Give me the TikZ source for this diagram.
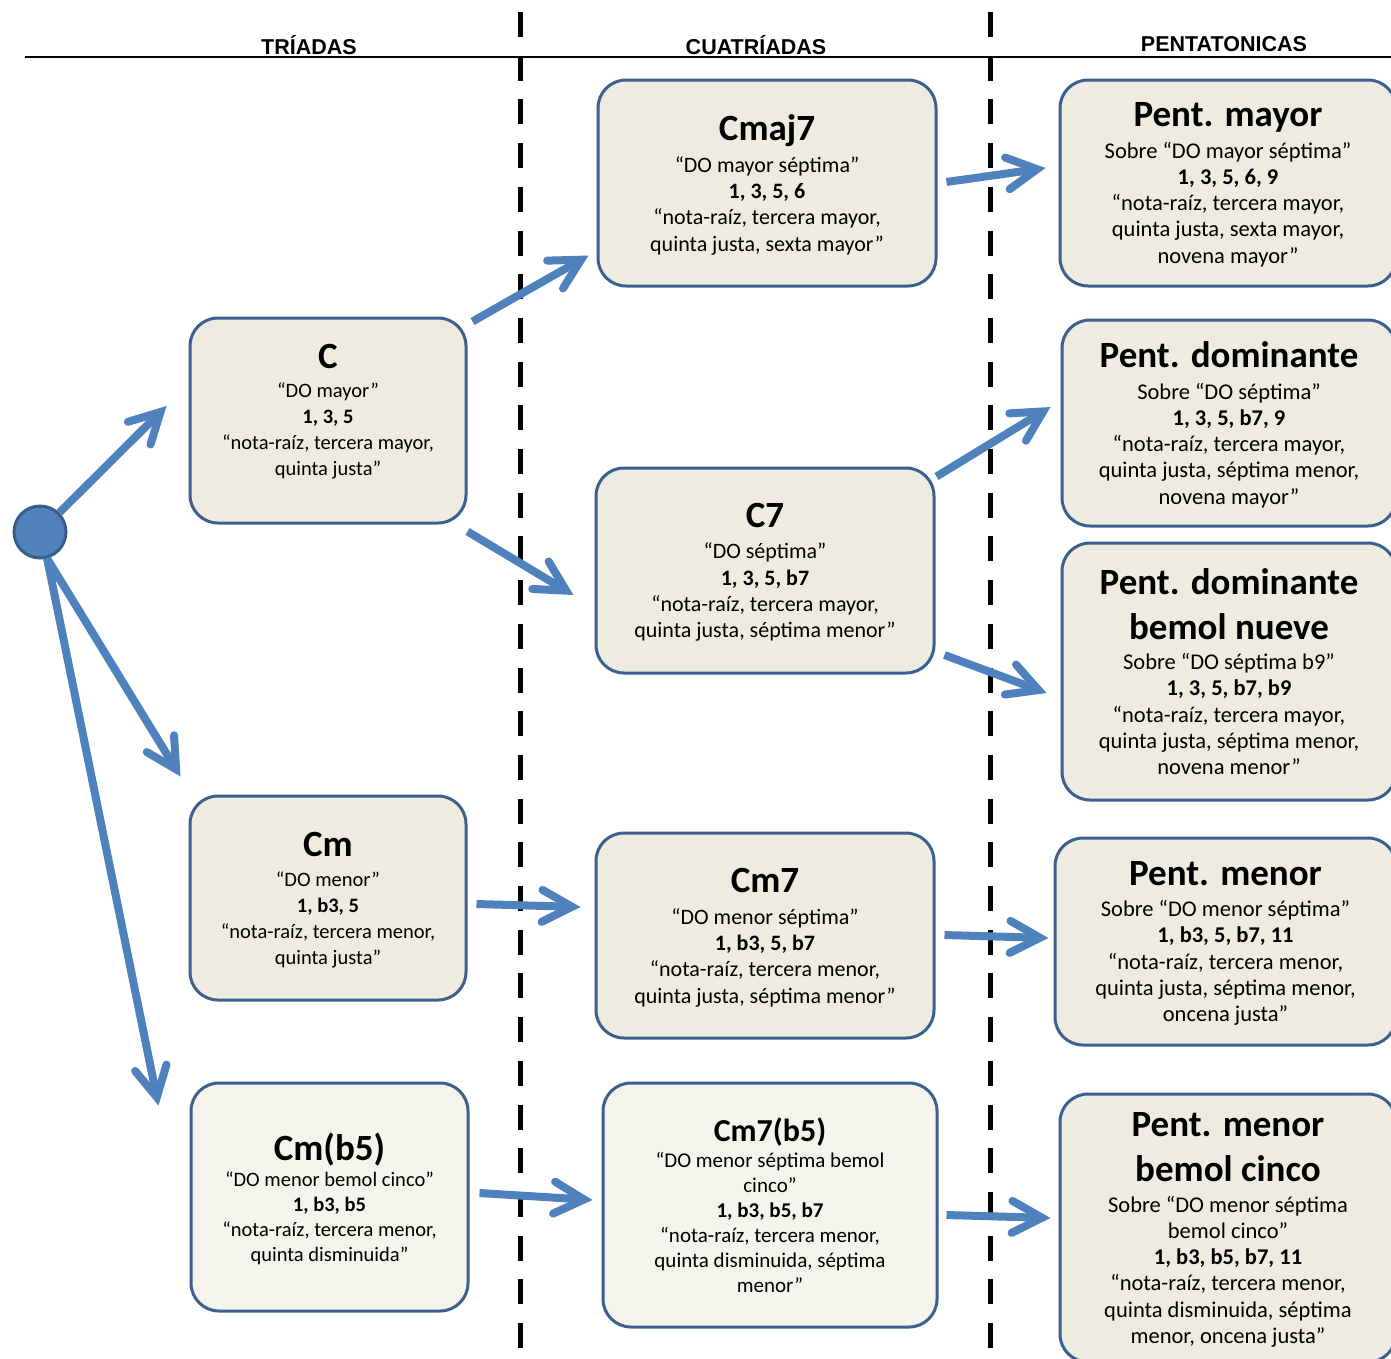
\documentclass[tikz,border=0pt]{standalone}
\usepackage{fontspec}
\setmainfont{Carlito}
\newfontfamily\hdrfont{Liberation Sans}
\usepackage{tikz}
\usetikzlibrary{arrows.meta,positioning,calc}
\definecolor{BoxFill}{RGB}{238,236,225}
\definecolor{BoxFillLt}{RGB}{244,243,236}
\definecolor{BoxLine}{RGB}{60,95,142}
\definecolor{ArrBlue}{RGB}{79,129,189}
\definecolor{DotLine}{RGB}{56,93,138}
\newcommand{\chtitle}{\fontsize{37}{40}\selectfont\bfseries}
\newcommand{\chsmall}{\fontsize{32}{36}\selectfont\bfseries}
\tikzset{
  chord/.style={rectangle,rounded corners=28pt,draw=BoxLine,line width=3pt,
                fill=BoxFill,align=center,inner sep=0pt,text=black},
  tri/.style={chord,minimum width=276pt,minimum height=205pt,
              font=\fontsize{20.5}{26}\selectfont},
  cuat/.style={chord,minimum width=338pt,minimum height=205pt,
               font=\fontsize{22}{26.3}\selectfont},
  pent/.style={chord,minimum width=336pt,minimum height=206pt,
               font=\fontsize{22.5}{26.3}\selectfont},
  hdr/.style={font=\hdrfont\bfseries\fontsize{21.5}{24}\selectfont},
  arr/.style={-{Straight Barb[length=30pt,width=32pt,line cap=round,line join=miter]},
              line width=8pt,ArrBlue},
  sepline/.style={line width=5pt,dash pattern=on 25pt off 18.7pt},
}

\begin{document}
\begin{tikzpicture}[x=1pt,y=-1pt]
  \clip (0,0) rectangle (1391,1358);
  \fill[white] (0,0) rectangle (1391,1358);
  % column heads
  \draw[line width=2pt] (25,57) -- (1391,57);
  \draw[sepline] (520,12) -- (520,1358);
  \draw[sepline] (990,12) -- (990,1358);
  \node[hdr] (hT) at (309,45) {TRÍADAS};
  \node[hdr] (hC) at (756,45) {CUATRÍADAS};
  \node[hdr] (hP) at (1224,44) {PENTATONICAS};

  % start
  \node[circle,fill=ArrBlue,draw=DotLine,line width=3pt,minimum size=52pt,inner sep=0pt] (root) at (40,532) {};

  % triadas
  \node[tri,text depth=22pt] (C) at (328,420.5) {{\chtitle C}\\[3pt] “DO mayor”\\ \textbf{1, 3, 5}\\ “nota-raíz, tercera mayor,\\ quinta justa”};
  \node[tri,minimum height=204pt,text depth=-5pt] (Cm) at (328,898) {{\chtitle Cm}\\[4pt] “DO menor”\\ \textbf{1, b3, 5}\\ “nota-raíz, tercera menor,\\ quinta justa”};
  \node[tri,fill=BoxFillLt,minimum width=277pt,minimum height=228pt,text depth=0pt,
        font=\fontsize{20.5}{25}\selectfont] (Cmb5) at (329.5,1197) {{\chtitle Cm(b5)}\\[1pt] “DO menor bemol cinco”\\ \textbf{1, b3, b5}\\ “nota-raíz, tercera menor,\\ quinta disminuida”};

  % cuatriadas
  \node[cuat,minimum height=206pt,text depth=-1pt] (Cmaj7) at (767,183) {{\chtitle Cmaj7}\\[5pt] “DO mayor séptima”\\ \textbf{1, 3, 5, 6}\\ “nota-raíz, tercera mayor,\\ quinta justa, sexta mayor”};
  \node[cuat,text depth=-4pt] (C7) at (765,570.5) {{\chtitle C7}\\[5pt] “DO séptima”\\ \textbf{1, 3, 5, b7}\\ “nota-raíz, tercera mayor,\\ quinta justa, séptima menor”};
  \node[cuat,text depth=-2pt] (Cm7) at (765,935.5) {{\chtitle Cm7}\\[6pt] “DO menor séptima”\\ \textbf{1, b3, 5, b7}\\ “nota-raíz, tercera menor,\\ quinta justa, séptima menor”};
  \node[cuat,fill=BoxFillLt,minimum width=334pt,minimum height=244pt,font=\fontsize{21}{25}\selectfont] (Cm7b5) at (770,1205) {{\chsmall Cm7(b5)}\\[1pt] “DO menor séptima bemol\\ cinco”\\ \textbf{1, b3, b5, b7}\\ “nota-raíz, tercera menor,\\ quinta disminuida, séptima\\ menor”};

  % pentatonicas
  \node[pent,text depth=-4pt] (Pmay) at (1228,183) {{\chtitle Pent. mayor}\\[5pt] Sobre “DO mayor séptima”\\ \textbf{1, 3, 5, 6, 9}\\ “nota-raíz, tercera mayor,\\ quinta justa, sexta mayor,\\ novena mayor”};
  \node[pent,minimum width=334pt,text depth=-4pt] (Pdom) at (1229,423) {{\chtitle Pent. dominante}\\[5pt] Sobre “DO séptima”\\ \textbf{1, 3, 5, b7, 9}\\ “nota-raíz, tercera mayor,\\ quinta justa, séptima menor,\\ novena mayor”};
  \node[pent,minimum width=334pt,minimum height=257pt,text depth=0pt] (Pdomb9) at (1229,671.5) {{\chtitle Pent. dominante}\\[19pt] {\chtitle bemol nueve}\\[4pt] Sobre “DO séptima b9”\\ \textbf{1, 3, 5, b7, b9}\\ “nota-raíz, tercera mayor,\\ quinta justa, séptima menor,\\ novena menor”};
  \node[pent,minimum width=341pt,minimum height=207pt,text depth=-4pt] (Pmen) at (1225.5,941.5) {{\chtitle Pent. menor}\\[5pt] Sobre “DO menor séptima”\\ \textbf{1, b3, 5, b7, 11}\\ “nota-raíz, tercera menor,\\ quinta justa, séptima menor,\\ oncena justa”};
  \node[pent,minimum height=268pt,text depth=-2pt] (Pmenb5) at (1228,1228) {{\chtitle Pent. menor}\\[19pt] {\chtitle bemol cinco}\\[4pt] Sobre “DO menor séptima\\ bemol cinco”\\ \textbf{1, b3, b5, b7, 11}\\ “nota-raíz, tercera menor,\\ quinta disminuida, séptima\\ menor, oncena justa”};

  % connectors
  \draw[arr] (root.45) -- ([shift={(-22,-14.5)}]C.west);
  \draw[arr] (root.-75) -- ([shift={(-8,-18)}]Cm.north west);
  \draw[arr] (root.-75) -- ([shift={(-31,24)}]Cmb5.north west);
  \draw[arr] ([shift={(5,5)}]C.north east) -- ([shift={(-8,-32)}]Cmaj7.south west);
  \draw[arr] ([shift={(0,7)}]C.south east) -- ([shift={(-21,24.5)}]C7.west);
  \draw[arr] ([shift={(9,6)}]Cm.east) -- ([shift={(-14,-28.5)}]Cm7.west);
  \draw[arr] ([shift={(10,-4)}]Cmb5.east) -- ([shift={(-9,-5)}]Cm7b5.west);
  \draw[arr] ([shift={(9,-1)}]Cmaj7.east) -- ([shift={(-13,-15)}]Pmay.west);
  \draw[arr] ([shift={(1,10)}]C7.north east) -- ([shift={(-10,-16)}]Pdom.west);
  \draw[arr] ([shift={(9,84.5)}]C7.east) -- ([shift={(-14,21.5)}]Pdomb9.west);
  \draw[arr] ([shift={(9,-0.5)}]Cm7.east) -- ([shift={(-5,-3.5)}]Pmen.west);
  \draw[arr] ([shift={(8,10)}]Cm7b5.east) -- ([shift={(-8,-10)}]Pmenb5.west);
\end{tikzpicture}
\end{document}
